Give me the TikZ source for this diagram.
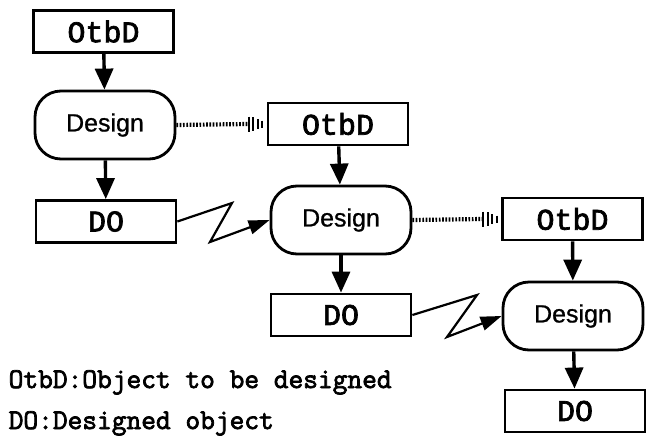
\documentclass[tikz,border=0pt]{standalone}
\usepackage{fontspec}
\usetikzlibrary{arrows.meta,calc}
\newfontfamily\boxfont[FakeBold=2.4]{Liberation Mono}
\newfontfamily\legfont[FakeBold=2.6]{Latin Modern Mono}
\newfontfamily\desfont[FakeBold=0.8]{Liberation Sans}
\tikzset{
  obj/.style={draw, line width=2.8pt, minimum width=140pt, minimum height=42pt,
    inner sep=0pt, font=\boxfont\fontsize{30}{30}\selectfont},
  proc/.style={draw, line width=2.8pt, rounded corners=26pt, minimum width=140pt,
    minimum height=68pt, inner sep=0pt, font=\desfont\fontsize{25}{25}\selectfont},
  flow/.style={line width=3.4pt, -{Triangle[length=21pt,width=18pt]}},
  zig/.style={line width=2.2pt, line join=miter, -{Triangle[length=21pt,width=14pt]}},
  dots/.style={line width=4.2pt, dash pattern=on 1.7pt off 1.6pt},
  bar/.style={line width=1.8pt},
  legend/.style={anchor=base west, inner sep=0pt, font=\legfont\fontsize{28.6}{28.6}\selectfont}
}
\begin{document}
\begin{tikzpicture}[x=1pt, y=-1pt]
\useasboundingbox (0,0) rectangle (646,440);

% first stage
\node[obj]  (o1) at (103.5,31.5) {OtbD};
\node[proc] (d1) at (105,125)    {Design\hspace{12pt}};
\node[obj]  (r1) at (106,221.5)  {DO};

% second stage
\node[obj]  (o2) at (338,124)    {OtbD};
\node[proc] (d2) at (341,220)    {Design\hspace{12pt}};
\node[obj]  (r2) at (341,315)    {DO};

% third stage
\node[obj]  (o3) at (572.5,219)  {OtbD};
\node[proc] (d3) at (573,316)    {Design\hspace{6pt}};
\node[obj]  (r3) at (575,411)    {DO};

% vertical flow
\draw[flow] (o1) -- (d1);
\draw[flow] (d1) -- (r1);
\draw[flow] (o2) -- (d2);
\draw[flow] (d2) -- (r2);
\draw[flow] (o3) -- (d3);
\draw[flow] (d3) -- (r3);

% result of one stage feeds the next design
\coordinate (z1a) at (232,203);
\coordinate (z1b) at (210,242);
\draw[zig] (r1.east) -- (z1a) -- (z1b) -- (d2.west);
\coordinate (z2a) at (477,295);
\coordinate (z2b) at (447,337);
\draw[zig] (r2.east) -- (z2a) -- (z2b) -- (d3.west);

% design spawns a new object to be designed (dotted, hatched head)
\foreach \src/\dst in {d1/o2, d2/o3}{
  \coordinate (t) at ([xshift=-19pt]\dst.west);
  \draw[dots] (\src.east) -- (t);
  \foreach \dx/\h in {18/15, 13.5/14, 9/10, 4.5/7}{
    \draw[bar] ([xshift=-\dx pt, yshift=\h/2 pt]\dst.west) -- ([xshift=-\dx pt, yshift=-\h/2 pt]\dst.west);
  }
}

% legend
\node[legend] (l1) at (8.5,388) {OtbD:Object to be designed};
\node[legend] (l2) at (8.5,429) {DO:Designed object};
\end{tikzpicture}
\end{document}
